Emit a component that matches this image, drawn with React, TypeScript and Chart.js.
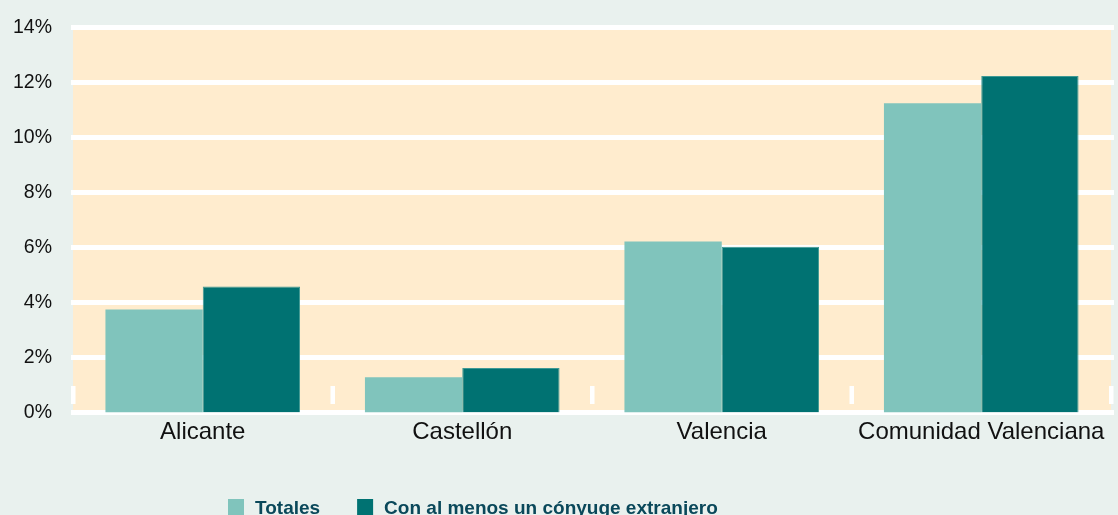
import React, { useEffect, useRef } from "react";
import { Chart, registerables } from "chart.js";

Chart.register(...registerables);

const categories = ["Alicante", "Castellón", "Valencia", "Comunidad Valenciana"];
const totales = [3.75, 1.28, 6.22, 11.25];
const conyugeExtranjero = [4.58, 1.62, 6.03, 12.24];
const seriesNames = ["Totales", "Con al menos un cónyuge extranjero"];
const yTicks = [0, 2, 4, 6, 8, 10, 12, 14];

const PAGE_BG = "#E9F1EE";
const PLOT_BG = "#FFECCE";
const LIGHT = "#80C4BC";
const DARK = "#007272";
const LEGEND_TEXT = "#0A485A";
const FONT = "'Liberation Sans', Arial, sans-serif";

const decorPlugin = {
  id: "decor",
  beforeDraw(chart: any) {
    const { ctx, chartArea, width, height } = chart;
    ctx.save();
    ctx.fillStyle = PAGE_BG;
    ctx.fillRect(0, 0, width, height);
    ctx.fillStyle = PLOT_BG;
    ctx.fillRect(chartArea.left, chartArea.top, chartArea.right - chartArea.left, chartArea.bottom - chartArea.top);
    ctx.restore();
  },
  beforeDatasetsDraw(chart: any) {
    const { ctx, chartArea, scales } = chart;
    ctx.save();
    ctx.fillStyle = "#FFFFFF";
    yTicks.forEach((v) => {
      const y = scales.y.getPixelForValue(v);
      ctx.fillRect(chartArea.left - 2, y - 2.5, chartArea.right - chartArea.left + 5, 5);
    });
    const n = categories.length;
    const w = (chartArea.right - chartArea.left) / n;
    for (let i = 0; i <= n; i++) {
      const x = chartArea.left + i * w;
      ctx.fillRect(x - 2, chartArea.bottom - 26.5, 4.5, 18);
    }
    ctx.restore();
  },
  afterDraw(chart: any) {
    const { ctx } = chart;
    ctx.save();
    ctx.font = `bold 19px ${FONT}`;
    ctx.textBaseline = "alphabetic";
    ctx.textAlign = "left";
    let x = 228;
    chart.data.datasets.forEach((ds: any) => {
      ctx.fillStyle = ds.backgroundColor;
      ctx.fillRect(x, 499, 16, 16);
      x += 16 + 11;
      ctx.fillStyle = LEGEND_TEXT;
      ctx.fillText(ds.label, x, 514);
      x += ctx.measureText(ds.label).width + 37;
    });
    ctx.restore();
  },
};

export default function App() {
  const ref = useRef<HTMLCanvasElement | null>(null);

  useEffect(() => {
    document.body.style.margin = "0";
    document.body.style.background = PAGE_BG;
    if (!ref.current) return;
    const chart = new Chart(ref.current, {
      type: "bar",
      data: {
        labels: categories,
        datasets: [
          {
            label: seriesNames[0],
            data: totales,
            backgroundColor: LIGHT,
            borderWidth: 0,
          },
          {
            label: seriesNames[1],
            data: conyugeExtranjero,
            backgroundColor: DARK,
            borderColor: "#3E9994",
            borderWidth: 1,
          },
        ],
      },
      options: {
        animation: false,
        responsive: true,
        maintainAspectRatio: false,
        layout: { padding: { left: 0, right: 7, top: 27.5, bottom: 0 } },
        datasets: {
          bar: { categoryPercentage: 0.75, barPercentage: 1.0 },
        },
        plugins: {
          legend: { display: false },
          tooltip: { enabled: false },
        },
        scales: {
          x: {
            grid: { display: false, drawTicks: false },
            border: { display: false },
            ticks: {
              color: "#111111",
              font: { family: FONT, size: 24 },
              padding: 5,
              maxRotation: 0,
              autoSkip: false,
            },
            afterFit(scale: any) {
              scale.height = 102.5;
              scale.paddingLeft = 0;
              scale.paddingRight = 0;
            },
          },
          y: {
            min: 0,
            max: 14,
            grid: { display: false, drawTicks: false },
            border: { display: false },
            ticks: {
              stepSize: 2,
              color: "#111111",
              font: { family: FONT, size: 19.5 },
              padding: 21,
              callback: (v: any) => `${v}%`,
            },
            afterFit(scale: any) {
              scale.width = 73;
              scale.paddingTop = 0;
              scale.paddingBottom = 0;
            },
          },
        },
      },
      plugins: [decorPlugin],
    });
    return () => chart.destroy();
  }, []);

  return (
    <div style={{ width: 1118, height: 515, position: "relative", background: PAGE_BG }}>
      <canvas ref={ref} />
    </div>
  );
}
